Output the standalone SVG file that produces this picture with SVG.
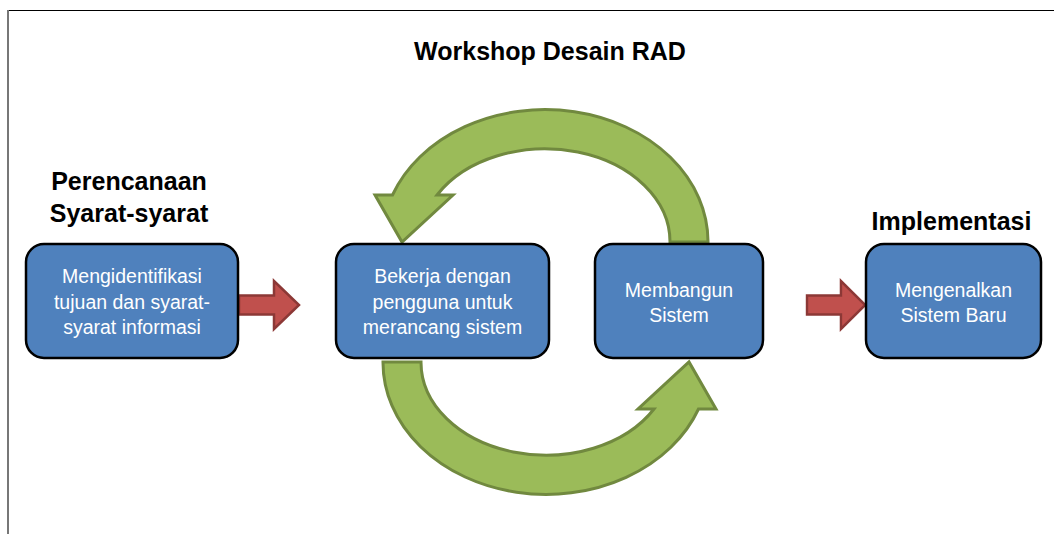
<svg xmlns="http://www.w3.org/2000/svg" xmlns:xlink="http://www.w3.org/1999/xlink" width="1054" height="534" viewBox="0 0 1054 534">
  <style>
    .title { font-family: "Liberation Sans", Arial, sans-serif; font-weight: bold; font-size: 25px; fill: #000; text-anchor: middle; }
    .box { fill: #4f81bd; stroke: #000; stroke-width: 2.5; }
    .label { font-family: "Liberation Sans", Arial, sans-serif; font-size: 19.5px; fill: #ffffff; text-anchor: middle; }
    .cycle { fill: #9bbb59; stroke: #71893f; stroke-width: 3; stroke-linejoin: miter; }
    .flow { fill: #c0504d; stroke: #8c3836; stroke-width: 2.5; stroke-linejoin: miter; }
  </style>
  <defs>
    <!-- curved arrow over the top: tail at the right box, head at the left box -->
    <path id="curve-arrow" d="M 708 242 A 163 132 0 0 0 392.5 195 L 375 195 L 402 242 L 453 195 L 437 195 A 125 93 0 0 1 670 242 Z"/>
    <!-- straight block arrow pointing right -->
    <path id="block-arrow" d="M 0 -9.5 L 35 -9.5 L 35 -24 L 60 0 L 35 24 L 35 9.5 L 0 9.5 Z"/>
  </defs>

  <rect width="1054" height="534" fill="#ffffff"/>

  <!-- frame lines -->
  <line x1="8" y1="10.5" x2="1054" y2="10.5" stroke="#000" stroke-width="1"/>
  <line x1="8" y1="10" x2="8" y2="534" stroke="#777" stroke-width="2"/>

  <!-- headings -->
  <g id="headings">
    <text class="title" x="550" y="60">Workshop Desain RAD</text>
    <text class="title" x="129" y="190">Perencanaan</text>
    <text class="title" x="129" y="222">Syarat-syarat</text>
    <text class="title" x="951.5" y="230">Implementasi</text>
  </g>

  <!-- connectors -->
  <g id="connectors">
    <use xlink:href="#block-arrow" class="flow" transform="translate(239 305)"/>
    <use xlink:href="#block-arrow" class="flow" transform="translate(807 305) scale(0.97 1)"/>
    <use xlink:href="#curve-arrow" class="cycle"/>
    <use xlink:href="#curve-arrow" class="cycle" transform="rotate(180 545.5 302)"/>
  </g>

  <g id="node-requirements">
    <rect class="box" x="26" y="244" width="212" height="114" rx="18" ry="18"/>
    <text class="label" x="132" y="283">Mengidentifikasi</text>
    <text class="label" x="132" y="308.5">tujuan dan syarat-</text>
    <text class="label" x="132" y="334">syarat informasi</text>
  </g>

  <g id="node-design">
    <rect class="box" x="336" y="244" width="213" height="114" rx="18" ry="18"/>
    <text class="label" x="442.5" y="283">Bekerja dengan</text>
    <text class="label" x="442.5" y="308.5">pengguna untuk</text>
    <text class="label" x="442.5" y="334">merancang sistem</text>
  </g>

  <g id="node-build">
    <rect class="box" x="595" y="244" width="168" height="114" rx="18" ry="18"/>
    <text class="label" x="679" y="296.5">Membangun</text>
    <text class="label" x="679" y="322">Sistem</text>
  </g>

  <g id="node-implementation">
    <rect class="box" x="866" y="244" width="175" height="114" rx="18" ry="18"/>
    <text class="label" x="953.5" y="296.5">Mengenalkan</text>
    <text class="label" x="953.5" y="322">Sistem Baru</text>
  </g>
</svg>
